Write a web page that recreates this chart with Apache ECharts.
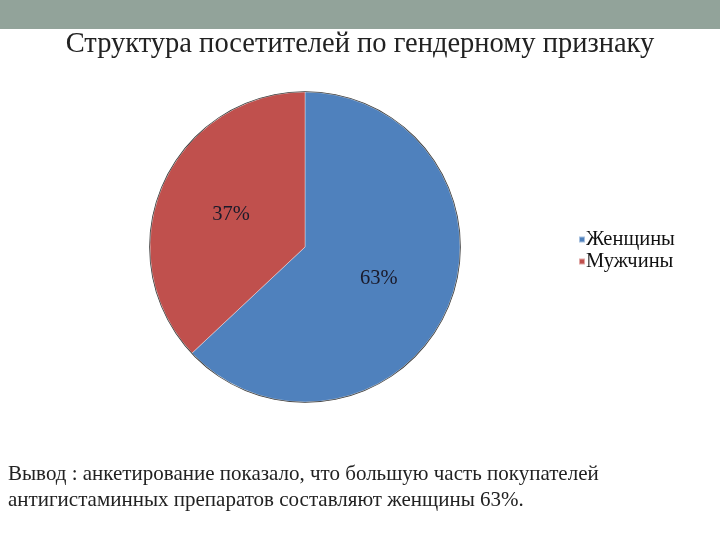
<!DOCTYPE html>
<html><head><meta charset="utf-8">
<script src="https://cdn.jsdelivr.net/npm/echarts@6/dist/echarts.min.js"></script>
<style>html,body{margin:0;padding:0;background:#fff}#c{width:720px;height:540px}</style>
</head><body><div id="c"></div>
<script>
const categories = ["Женщины", "Мужчины"];
const values = [63, 37];
const colors = ["#4f81bd", "#c0504d"];
const titleText = "Структура посетителей по гендерному признаку";
const noteLines = ["Вывод : анкетирование показало, что большую часть покупателей", "антигистаминных препаратов составляют женщины 63%."];

const serif = "'Liberation Serif', 'DejaVu Serif', serif";
const chart = echarts.init(document.getElementById('c'));
chart.setOption({
  backgroundColor: '#fff',
  animation: false,
  graphic: [
    { type: 'rect', left: 0, top: 0, shape: { width: 720, height: 29 }, style: { fill: '#92a39a' } },
    { type: 'text', left: 8, top: 461, style: { text: noteLines.join('\n'), font: '21px ' + serif, fill: '#222', lineHeight: 26 } }
  ],
  title: {
    text: titleText, left: 'center', top: 25,
    textStyle: { fontFamily: serif, fontSize: 28.5, fontWeight: 'normal', color: '#222' }
  },
  legend: {
    orient: 'vertical', left: 573, top: 224, icon: 'rect', itemWidth: 6, itemHeight: 6, itemGap: 1,
    data: categories,
    textStyle: { fontFamily: serif, fontSize: 20.5, color: '#111', padding: [0, 0, 0, -4] }
  },
  series: [{
    type: 'pie', center: [305, 247], radius: [0, 155], startAngle: 90, clockwise: true,
    data: categories.map((n, i) => ({ name: n, value: values[i], itemStyle: { color: colors[i] } })),
    itemStyle: { borderColor: 'rgba(255,255,255,0.5)', borderWidth: 0.7 },
    label: { show: true, position: 'inside', formatter: '{c}%', fontFamily: serif, fontSize: 20.5, color: '#1a1a2a' },
    labelLine: { show: false },
    emphasis: { disabled: true }
  }, {
    type: 'pie', center: [305, 247], radius: [155, 155.8], silent: true,
    data: [{ value: 1, itemStyle: { color: '#3a3a3a' } }], label: { show: false }, labelLine: { show: false }
  }]
});
</script></body></html>
